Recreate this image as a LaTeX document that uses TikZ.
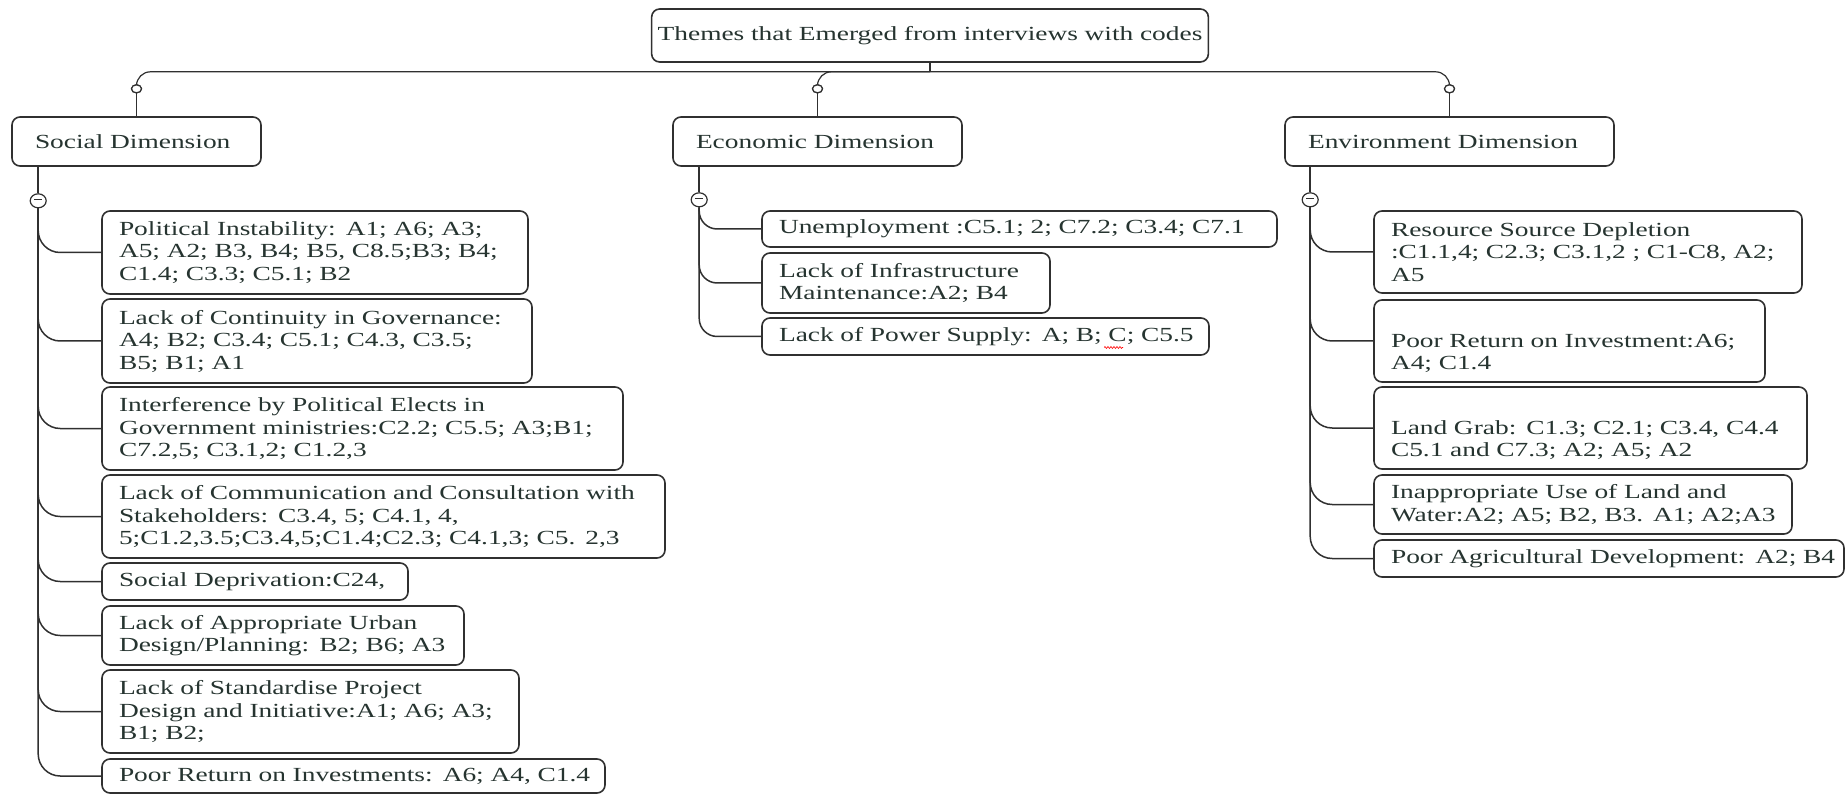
\documentclass[tikz,border=0pt]{standalone}
\usepackage{fontspec}
\setmainfont[FakeStretch=1.37]{Liberation Serif}
\usetikzlibrary{shapes.geometric,decorations.pathmorphing}

\definecolor{ink}{RGB}{38,52,48}
\definecolor{edge}{RGB}{48,48,48}

\begin{document}
\begin{tikzpicture}[x=1pt,y=-1pt,
  box/.style={draw=edge, line width=1.6pt, rounded corners=8pt, fill=white,
    text=ink, font=\fontsize{20}{22.5}\selectfont, align=left, inner ysep=0pt},
  item/.style={box, inner xsep=17pt},
  dim/.style={box, inner xsep=23pt},
  link/.style={draw=edge, line width=1.5pt},
  bus/.style={draw=edge, line width=1.2pt},
  dropmark/.style={ellipse, draw=edge, line width=1.2pt, fill=white,
    minimum width=10pt, minimum height=8pt, inner sep=0pt},
  foldmark/.style={ellipse, draw=edge, line width=1.2pt, fill=white, text=edge,
    minimum width=16pt, minimum height=14pt, inner sep=0pt},
]
\useasboundingbox (0,0) rectangle (1845,794);

% root and the three dimensions
\node[box, text width=550pt, minimum height=53pt, align=center] (root) at (930,35.5)
  {Themes that Emerged from interviews with codes};
\node[dim, text width=203pt, minimum height=49pt] (soc) at (136.5,141.5) {Social Dimension};
\node[dim, text width=243pt, minimum height=49pt] (eco) at (817.5,141.5) {Economic Dimension};
\node[dim, text width=283pt, minimum height=49pt] (env) at (1449.5,141.5) {Environment Dimension};

% social items
\node[item, text width=392pt, minimum height=83pt] (s1) at (315,252.5)
  {\mbox{Political Instability: A1; A6; A3;}\\\mbox{A5; A2; B3, B4; B5, C8.5;B3; B4;}\\\mbox{C1.4; C3.3; C5.1; B2}};
\node[item, text width=396pt, minimum height=84pt] (s2) at (317,341)
  {\mbox{Lack of Continuity in Governance:}\\\mbox{A4; B2; C3.4; C5.1; C4.3, C3.5;}\\\mbox{B5; B1; A1}};
\node[item, text width=487pt, minimum height=83pt] (s3) at (362.5,428.5)
  {\mbox{Interference by Political Elects in}\\\mbox{Government ministries:C2.2; C5.5; A3;B1;}\\\mbox{C7.2,5; C3.1,2; C1.2,3}};
\node[item, text width=529pt, minimum height=83pt] (s4) at (383.5,516.5)
  {\mbox{Lack of Communication and Consultation with}\\\mbox{Stakeholders: C3.4, 5; C4.1, 4,}\\\mbox{5;C1.2,3.5;C3.4,5;C1.4;C2.3; C4.1,3; C5. 2,3}};
\node[item, text width=272pt, minimum height=37pt] (s5) at (255,581.5)
  {\mbox{Social Deprivation:C24,}};
\node[item, text width=328pt, minimum height=59pt] (s6) at (283,635.5)
  {\mbox{Lack of Appropriate Urban}\\\mbox{Design/Planning: B2; B6; A3}};
\node[item, text width=383pt, minimum height=83pt] (s7) at (310.5,711.5)
  {\mbox{Lack of Standardise Project}\\\mbox{Design and Initiative:A1; A6; A3;}\\\mbox{B1; B2;}};
\node[item, text width=469pt, minimum height=34pt] (s8) at (353.5,776)
  {\mbox{Poor Return on Investments: A6; A4, C1.4}};

% economic items
\node[item, text width=481pt, minimum height=36pt] (e1) at (1019.5,229)
  {\mbox{Unemployment :C5.1; 2; C7.2; C3.4; C7.1}};
\node[item, text width=254pt, minimum height=60pt] (e2) at (906,283)
  {\mbox{Lack of Infrastructure}\\\mbox{Maintenance:A2; B4}};
\node[item, text width=413pt, minimum height=37pt] (e3) at (985.5,336.5)
  {\mbox{Lack of Power Supply: A; B; C; C5.5}};

% environment items
\node[item, text width=394pt, minimum height=82pt] (v1) at (1588,252)
  {\mbox{Resource Source Depletion}\\\mbox{:C1.1,4; C2.3; C3.1,2 ; C1-C8, A2;}\\\mbox{A5}};
\node[item, text width=357pt, minimum height=82pt] (v2) at (1569.5,341)
  {\strut\\\mbox{Poor Return on Investment:A6;}\\\mbox{A4; C1.4}};
\node[item, text width=399pt, minimum height=82pt] (v3) at (1590.5,428)
  {\strut\\\mbox{Land Grab: C1.3; C2.1; C3.4, C4.4}\\\mbox{C5.1 and C7.3; A2; A5; A2}};
\node[item, text width=384pt, minimum height=59pt] (v4) at (1583,504.5)
  {\mbox{Inappropriate Use of Land and}\\\mbox{Water:A2; A5; B2, B3. A1; A2;A3}};
\node[item, text width=436pt, minimum height=37pt] (v5) at (1609,558.5)
  {\mbox{Poor Agricultural Development: A2; B4}};

% top bus from the root to the dimensions
\coordinate (bus) at ([yshift=-9pt]root.south);
\draw[bus] (root.south) -- (bus);
\path (bus -| soc.north) ++(0,17) node[dropmark] (sd) {};
\path (bus -| eco.north) ++(0,17) node[dropmark] (ed) {};
\path (bus -| env.north) ++(0,17) node[dropmark] (vd) {};
\draw[bus, rounded corners=14pt] (bus) -| (sd.north);
\draw[bus, rounded corners=14pt] (bus) -| (ed.north);
\draw[bus, rounded corners=14pt] (bus) -| (vd.north);
\draw[bus] (sd.south) -- (soc.north);
\draw[bus] (ed.south) -- (eco.north);
\draw[bus] (vd.south) -- (env.north);
\node[dropmark] at (sd) {};
\node[dropmark] at (ed) {};
\node[dropmark] at (vd) {};

% collapse markers below each dimension
\path ([xshift=27pt]soc.south west) ++(0,34) node[foldmark] (sf) {\rule[2.5pt]{8pt}{1.2pt}};
\path ([xshift=27pt]eco.south west) ++(0,33) node[foldmark] (ef) {\rule[2.5pt]{8pt}{1.2pt}};
\path ([xshift=26pt]env.south west) ++(0,33) node[foldmark] (vf) {\rule[2.5pt]{8pt}{1.2pt}};
\draw[link] ([xshift=27pt]soc.south west) -- (sf.north);
\draw[link] ([xshift=27pt]eco.south west) -- (ef.north);
\draw[link] ([xshift=26pt]env.south west) -- (vf.north);

% branches to the items
\foreach \n in {s1,s2,s3,s4,s5,s6,s7,s8}
  \draw[link, rounded corners=22pt] (sf.south) |- (\n.west);
\foreach \n in {e1,e2,e3}
  \draw[link, rounded corners=18pt] (ef.south) |- (\n.west);
\foreach \n in {v1,v2,v3,v4,v5}
  \draw[link, rounded corners=22pt] (vf.south) |- (\n.west);

% spelling mark under the lone C
\draw[red, line width=0.6pt, decorate, decoration={zigzag, amplitude=1pt, segment length=3pt}]
  ([shift={(343pt,-11pt)}]e3.west) -- ++(19,0);
\end{tikzpicture}
\end{document}
